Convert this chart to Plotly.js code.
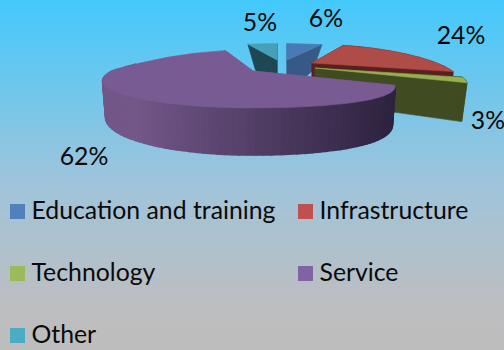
<!DOCTYPE html>
<html>
<head>
<meta charset="utf-8">
<script src="https://cdn.plot.ly/plotly-3.0.1.min.js"></script>
<style>
html,body{margin:0;padding:0;width:504px;height:350px;overflow:hidden;}
body{background:linear-gradient(180deg,#43c9fc 0%,#9fc4db 52%,#bdbec0 88%,#bdbdbd 100%);}
#chart{width:504px;height:350px;}
</style>
</head>
<body>
<div id="chart"></div>
<script>
// --- data ---
const categories = ['Education and training', 'Infrastructure', 'Technology', 'Service', 'Other'];
const percents = [6, 24, 3, 62, 5];

// --- styles ---
const topColors = ['#4a7ab5', '#ae4c48', '#94b052', '#785b92', '#47a0b9'];
const wallColors = ['#365a85', '#5a1f1e', '#414b22', '#775a8e', '#1c4753'];
const legendColors = ['#4f81bd', '#c0504d', '#9bbb59', '#8064a2', '#4bacc6'];

// --- 3D pie geometry (pie tilted and exploded) ---
const tipX = [287, 312, 315, 253, 277];
const tipY = [60, 63, 68, 71, 60];
const radiusScale = [1, 1, 1.035, 1, 1];
const xStretch = [1.12, 1, 1, 0.98, 1.12];
const yStretch = [0.88, 1, 1, 1, 0.88];
const bottomScale = [0.98, 0.98, 0.965, 0.98, 0.98];
const RX = 125, KX = 0.51, RY = 24.8, KY = 0.33, DEPTH = 33, KZ = 0.3;
const SERVICE = 3, SERVICE_LEFT_RX = 141, SERVICE_LEFT_KFRONT = 0.35, SERVICE_LEFT_KBACK = 0.6, SERVICE_BACK_Y = 1.14;
const drawOrder = [4, 0, 1, 2, 3];
const labelX = [326, 461, 488, 84, 260];
const labelY = [20.5, 37.5, 123, 159, 24.5];
const legendX = [17.5, 305.5, 17.5, 305.5, 17.5];
const legendY = [211.5, 211.5, 273.5, 273.5, 335.5];
const legendTextOffset = 14;
const legendTextDy = 1.5;

function project(i, deg, z) {
  const a = deg * Math.PI / 180;
  const r = radiusScale[i];
  const u = Math.sin(a) * r, v = -Math.cos(a) * r;
  const shrink = z ? (v >= 0 ? bottomScale[i] : bottomScale[i] - 0.25 * (-v)) : 1;
  let sx = RX * xStretch[i] / (1 - KX * v);
  let sy = RY * yStretch[i];
  if (i === SERVICE && u < 0) {
    sx = SERVICE_LEFT_RX / (1 - (v < 0 ? SERVICE_LEFT_KBACK : SERVICE_LEFT_KFRONT) * v);
    if (v < 0) sy *= SERVICE_BACK_Y;
  }
  return [
    tipX[i] + u * sx * shrink,
    tipY[i] + sy * v / (1 - KY * v) + z * DEPTH / (1 - KZ * v)
  ];
}
function hexMix(a, b, t) {
  const p = s => [1, 3, 5].map(k => parseInt(s.substr(k, 2), 16));
  const A = p(a), B = p(b);
  return 'rgb(' + A.map((c, k) => Math.round(c + (B[k] - c) * t)).join(',') + ')';
}
function poly(xs, ys, color, width) {
  return {
    type: 'scatter', mode: 'lines', x: xs.concat([xs[0]]), y: ys.concat([ys[0]]),
    fill: 'toself', fillcolor: color, line: {color: color, width: width || 0.6},
    hoverinfo: 'skip', showlegend: false
  };
}

const traces = [];
let start = 0;
const angles = percents.map(p => { const s = start; start += p * 3.6; return [s, start]; });

drawOrder.forEach(i => {
  const [a0, a1] = angles[i];
  const tx = tipX[i], ty = tipY[i];
  // radial walls
  [a0, a1].forEach(a => {
    const t = project(i, a, 0), b = project(i, a, 1);
    traces.push(poly([tx, t[0], b[0], tx], [ty, t[1], b[1], ty + DEPTH], wallColors[i]));
  });
  // outer wall, cut in steps so that it can be shaded
  const steps = i === SERVICE ? 110 : 8;
  for (let k = 0; k < steps; k++) {
    const d0 = a0 + (a1 - a0) * k / steps, d1 = a0 + (a1 - a0) * (k + 1) / steps;
    const p0 = project(i, d0, 0), p1 = project(i, d1, 0), q0 = project(i, d0, 1), q1 = project(i, d1, 1);
    if (Math.cos((d0 + d1) / 2 * Math.PI / 180) > 0.25 && i !== 1) continue; // back side is hidden
    let color = wallColors[i];
    if (i === SERVICE) {
      const t = Math.max(0, Math.min(1, (p0[0] - 135) / 255));
      color = hexMix('#735789', '#2e2440', t);
    }
    traces.push(poly([p0[0], p1[0], q1[0], q0[0]], [p0[1], p1[1], q1[1], q0[1]], color, i === SERVICE ? 1.4 : 0.6));
  }
  // top surface
  const xs = [tx], ys = [ty];
  const n = Math.max(4, Math.round(a1 - a0));
  for (let k = 0; k <= n; k++) {
    const p = project(i, a0 + (a1 - a0) * k / n, 0);
    xs.push(p[0]); ys.push(p[1]);
  }
  traces.push(poly(xs, ys, topColors[i]));
});

// percent labels
traces.push({
  type: 'scatter', mode: 'text', x: labelX, y: labelY,
  text: percents.map(p => p + '%'), textposition: 'middle center',
  textfont: {family: 'Lato, sans-serif', size: 24.8, color: '#0a0a0a'},
  hoverinfo: 'skip', showlegend: false, cliponaxis: false
});
// legend
traces.push({
  type: 'scatter', mode: 'markers', x: legendX, y: legendY,
  marker: {symbol: 'square', size: 15, color: legendColors, line: {width: 0}},
  hoverinfo: 'skip', showlegend: false, cliponaxis: false
});
traces.push({
  type: 'scatter', mode: 'text', x: legendX.map(x => x + legendTextOffset), y: legendY.map(y => y + legendTextDy),
  text: categories, textposition: 'middle right',
  textfont: {family: 'Lato, sans-serif', size: 24.8, color: '#0a0a0a'},
  hoverinfo: 'skip', showlegend: false, cliponaxis: false
});

Plotly.newPlot('chart', traces, {
  width: 504, height: 350,
  margin: {l: 0, r: 0, t: 0, b: 0, pad: 0},
  paper_bgcolor: 'rgba(0,0,0,0)', plot_bgcolor: 'rgba(0,0,0,0)',
  showlegend: false,
  xaxis: {range: [0, 504], visible: false, fixedrange: true},
  yaxis: {range: [350, 0], visible: false, fixedrange: true}
}, {displayModeBar: false, staticPlot: true});
</script>
</body>
</html>
